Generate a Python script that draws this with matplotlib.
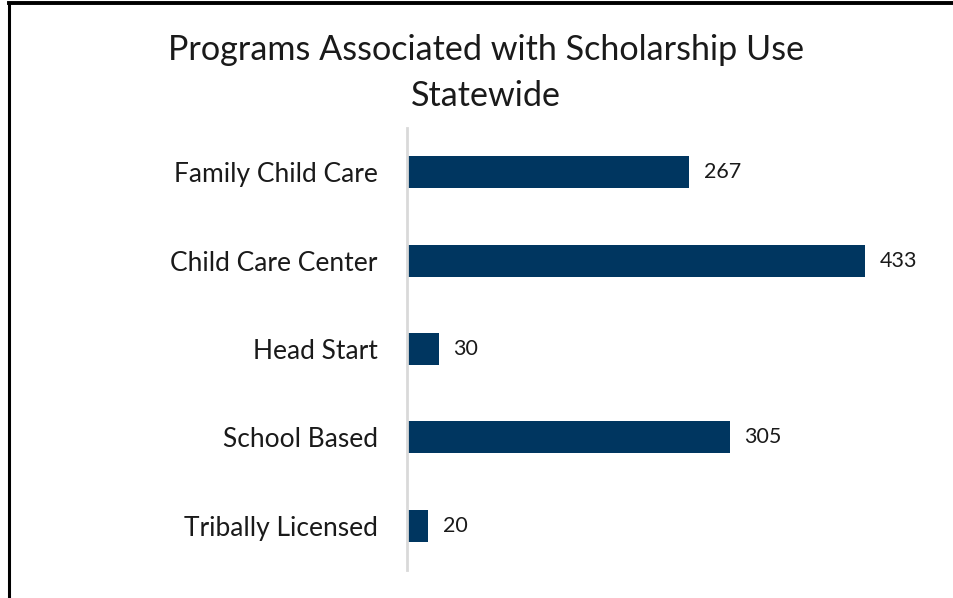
import matplotlib
matplotlib.use("Agg")
import matplotlib.pyplot as plt
from matplotlib.lines import Line2D

categories = ["Family Child Care", "Child Care Center", "Head Start", "School Based", "Tribally Licensed"]
values = [267, 433, 30, 305, 20]
title = "Programs Associated with Scholarship Use\nStatewide"

plt.rcParams['font.family'] = ['Lato', 'DejaVu Sans']

fig = plt.figure(figsize=(9.54, 5.98), dpi=100)
ax = fig.add_axes([407/954, 28/598, 529/954, 442/598])

ypos = list(range(len(categories)))
ax.barh(ypos, values, height=0.36, color="#003660", zorder=2)
ax.set_ylim(len(categories) - 0.5, -0.5)
ax.set_xlim(0, 500)
ax.set_yticks(ypos)
ax.set_yticklabels(categories, fontsize=19, color="#1a1a1a")
ax.tick_params(axis='y', length=0, pad=21)
ax.set_xticks([])
for s in ["top", "right", "bottom"]:
    ax.spines[s].set_visible(False)
ax.spines["left"].set_color("#d9d9d9")
ax.spines["left"].set_linewidth(2)

for y, v in zip(ypos, values):
    ax.annotate(str(v), (v, y), xytext=(10.5, 0), textcoords="offset points",
                va="center", ha="left", fontsize=15.5, color="#1a1a1a")

fig.text(486/954, 1 - 73/598, title, ha="center", va="center", fontsize=24.6,
         color="#1a1a1a", linespacing=1.55)

# chart border (left and top only visible)
fig.add_artist(Line2D([9/954, 9/954], [0, 1 - 3/598], transform=fig.transFigure, color="black", lw=2.2))
fig.add_artist(Line2D([9/954, 1], [1 - 3/598, 1 - 3/598], transform=fig.transFigure, color="black", lw=2.8))

fig.savefig("out.png", dpi=100)
